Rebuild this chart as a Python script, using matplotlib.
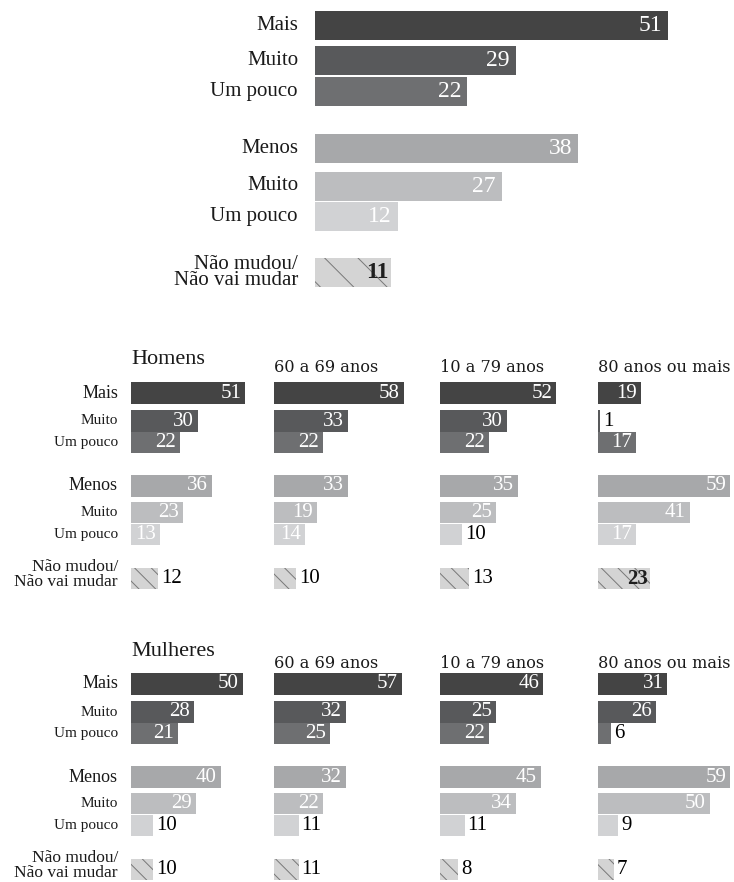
import matplotlib.pyplot as plt

# figure size in pixels, drawn at 100 dpi
W, H = 734, 882

row_labels = ["Mais", "Muito", "Um pouco", "Menos", "Muito", "Um pouco",
              "Não mudou/\nNão vai mudar"]
row_colors = ["#444444", "#58595b", "#6e6f71", "#a7a8aa", "#bcbdbf", "#d1d2d4"]
none_color = "#d4d4d4"

# total
geral = [51, 29, 22, 38, 27, 12, 11]

# by sex and age group (same row order as row_labels)
faixas = ["60 a 69 anos", "10 a 79 anos", "80 anos ou mais"]
homens = [51, 30, 22, 36, 23, 13, 12]
homens_60 = [58, 33, 22, 33, 19, 14, 10]
homens_70 = [52, 30, 22, 35, 25, 10, 13]
homens_80 = [19, 1, 17, 59, 41, 17, 23]
mulheres = [50, 28, 21, 40, 29, 10, 10]
mulheres_60 = [57, 32, 25, 32, 22, 11, 11]
mulheres_70 = [46, 25, 22, 45, 34, 11, 8]
mulheres_80 = [31, 26, 6, 59, 50, 9, 7]

SERIF = "Liberation Serif"
HEAD = "DejaVu Serif"

plt.rcParams["hatch.linewidth"] = 0.7

fig = plt.figure(figsize=(W / 100, H / 100), dpi=100)


def px_axes(left, top, width, height, scale):
    # axes placed in pixels: x in percent, y in pixels from the axes top
    ax = fig.add_axes([left / W, 1 - (top + height) / H, width / W, height / H])
    ax.set_xlim(0, width / scale)
    ax.set_ylim(height, 0)
    ax.set_axis_off()
    return ax


def draw_block(ax, values, centers, bar_h, scale, num_size, hatch,
               label_sizes=None, label_gap=0, pad_in=4, last_nudge=0):
    ax.barh(centers[:6], values[:6], height=bar_h, color=row_colors, linewidth=0)
    for v, y in zip(values[:6], centers[:6]):
        if v >= 12:
            ax.text(v - pad_in / scale, y, str(v), ha="right", va="center",
                    color="white", fontsize=num_size, family=SERIF)
        else:
            ax.text(v + 3 / scale, y, str(v), ha="left", va="center",
                    color="black", fontsize=num_size, family=SERIF)

    v, y = values[6], centers[6]
    ax.barh([y], [v], height=bar_h, color=none_color, hatch=hatch,
            edgecolor="#777777", linewidth=0)
    if v * scale >= 40:
        ax.text(v - 2 / scale, y, str(v), ha="right", va="center",
                color="#1e1e1e", fontsize=num_size, family=SERIF, weight="bold")
    else:
        ax.text(v + 3 / scale, y, str(v), ha="left", va="center",
                color="black", fontsize=num_size, family=SERIF)

    if label_sizes is not None:
        label_y = list(centers[:6]) + [centers[6] - last_nudge]
        for lab, y, fs in zip(row_labels, label_y, label_sizes):
            ax.text(-label_gap / scale, y, lab, ha="right", va="center",
                    multialignment="right", linespacing=0.85,
                    fontsize=fs, family=SERIF, color="#1a1a1a")


# top chart
top_scale = 6.92
ax = px_axes(315, 0, 419, 300, top_scale)
draw_block(ax, geral, [25.5, 60.5, 91.5, 148.5, 186, 216.5, 272.5], 29,
           top_scale, 17, "\\", label_sizes=[15] * 7, label_gap=17, pad_in=6)

# small multiples
panel_scale = 2.24
col_left = [131, 274, 440, 598]
panel_centers = [11, 39, 60.5, 104, 130.5, 152.5, 196.5]
small_labels = [13, 11, 11, 13, 11, 11, 12.5]

groups = [
    ("Homens", 382, 364, 372, [homens, homens_60, homens_70, homens_80]),
    ("Mulheres", 673, 656, 668, [mulheres, mulheres_60, mulheres_70, mulheres_80]),
]

for title, top, title_y, head_y, panels in groups:
    fig.text(col_left[0] / W, 1 - title_y / H, title, ha="left", va="baseline",
             fontsize=16, family=SERIF, color="#1a1a1a")
    for j, head in enumerate(faixas):
        fig.text(col_left[j + 1] / W, 1 - head_y / H, head, ha="left",
                 va="baseline", fontsize=11.6, family=HEAD, color="#1a1a1a")
    for j, vals in enumerate(panels):
        width = min(140, W - col_left[j])
        ax = px_axes(col_left[j], top, width, 215, panel_scale)
        draw_block(ax, vals, panel_centers, 21.5, panel_scale, 15, "\\\\",
                   label_sizes=small_labels if j == 0 else None, label_gap=13,
                   last_nudge=4)

fig.savefig("out.png", dpi=100)
